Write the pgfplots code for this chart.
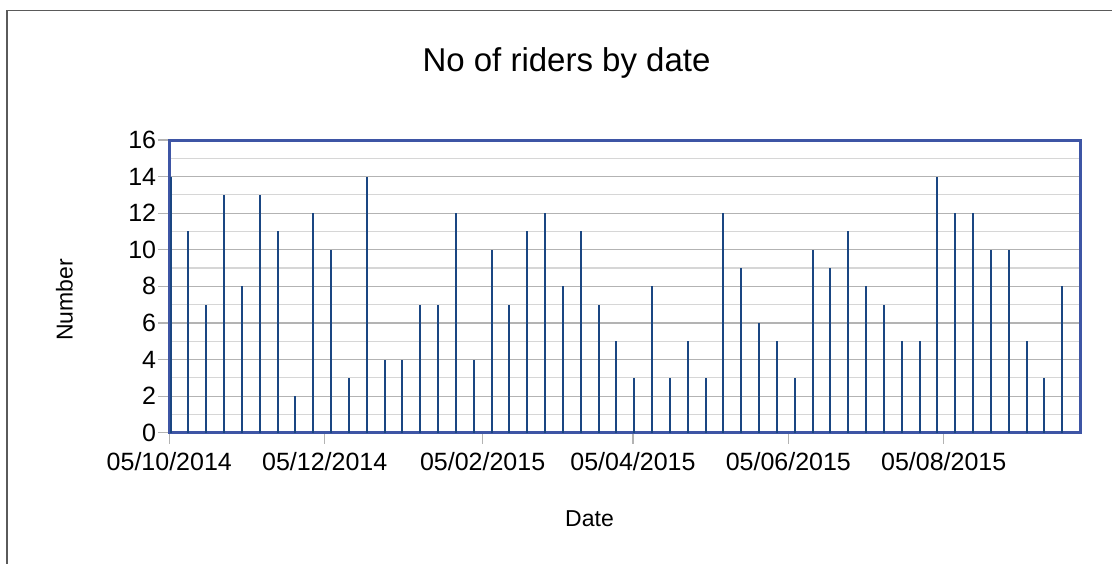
\documentclass[border=0pt]{standalone}
\usepackage{pgfplots}
\pgfplotsset{compat=1.18}
\usepackage{pgfplotstable}
\usepackage{fontspec}
\setmainfont{Liberation Sans}
\definecolor{barblue}{RGB}{26,70,130}
\definecolor{frameblue}{RGB}{62,85,165}
\definecolor{gridmaj}{RGB}{179,179,179}
\definecolor{gridmin}{RGB}{214,214,214}
\definecolor{framegray}{RGB}{90,90,90}
\pgfplotstableread{
day riders
0 14
7 11
14 7
21 13
28 8
35 13
42 11
49 2
56 12
63 10
70 3
77 14
84 4
91 4
98 7
105 7
112 12
119 4
126 10
133 7
140 11
147 12
154 8
161 11
168 7
175 5
182 3
189 8
196 3
203 5
210 3
217 12
224 9
231 6
238 5
245 3
252 10
259 9
266 11
273 8
280 7
287 5
294 5
301 14
308 12
315 12
322 10
329 10
336 5
343 3
350 8
}\riders
\begin{document}
\begin{tikzpicture}[x=1pt,y=1pt]
\useasboundingbox (0,0) rectangle (1112,563);
\draw[line width=1.6pt, color=framegray] (6.8,-2) -- (6.8,552.3) -- (1114,552.3);
\node[anchor=base, font=\fontsize{33}{33}\selectfont] at (566.5,491.3) {No of riders by date};
\node[anchor=base, font=\fontsize{23}{23}\selectfont] at (589.5,36.3) {Date};
\node[anchor=base, rotate=90, font=\fontsize{23}{23}\selectfont] at (72.7,263) {Number};
\begin{axis}[
  at={(169.3pt,130.3pt)}, anchor=south west,
  scale only axis, width=910.7pt, height=292.7pt,
  xmin=-0.5, xmax=357, ymin=0, ymax=16,
  ytick={0,2,...,16}, minor ytick={1,3,...,15},
  ymajorgrids, yminorgrids,
  major grid style={color=gridmaj, line width=1.2pt},
  minor grid style={color=gridmin, line width=1.2pt},
  xtick={-0.5,60.5,122.5,181.5,242.5,303.5},
  xticklabels={05/10/2014,05/12/2014,05/02/2015,05/04/2015,05/06/2015,05/08/2015},
  xtick pos=bottom, ytick pos=left,
  tick align=outside,
  major tick style={color=gridmaj, line width=1.2pt},
  minor tick length=0pt, major tick length=11pt,
  axis line style={color=frameblue, line width=3pt},
  /pgf/number format/assume math mode=true,
  ticklabel style={font=\fontsize{25}{25}\selectfont},
  yticklabel style={inner sep=2pt},
  xticklabel style={yshift=-5pt},
]
\addplot[ycomb, color=barblue, line width=2pt, mark=none] table[x=day, y=riders] {\riders};
\end{axis}
\end{tikzpicture}
\end{document}
